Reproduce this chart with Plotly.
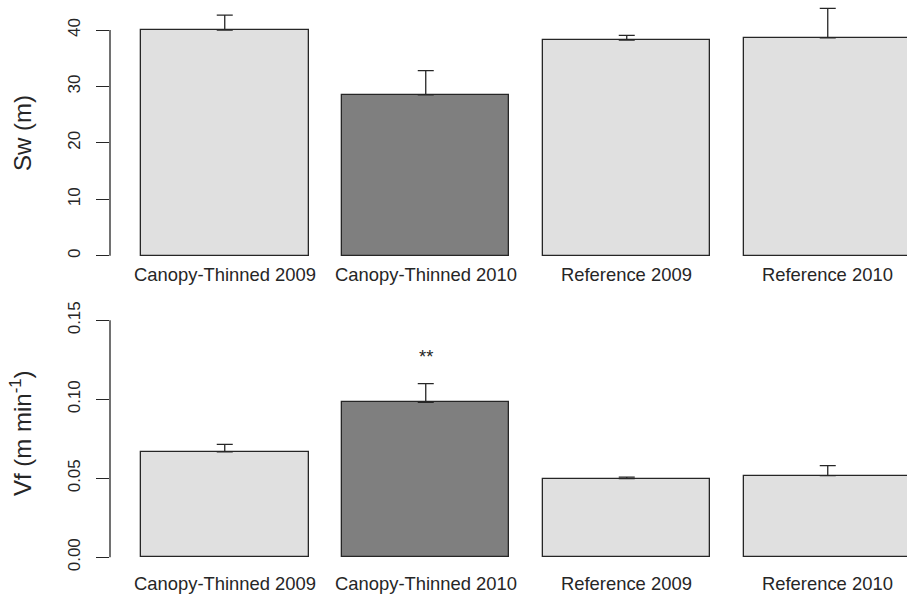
import plotly.graph_objects as go

# Treatment groups
categories = ["Canopy-Thinned 2009", "Canopy-Thinned 2010", "Reference 2009", "Reference 2010"]

# Stream width Sw (m): means and upper standard errors
sw_mean = [40.0, 28.5, 38.25, 38.65]
sw_err = [2.66, 4.3, 0.83, 5.2]

# Flow velocity Vf (m min^-1): means and upper standard errors
vf_mean = [0.0668, 0.0981, 0.0498, 0.0517]
vf_err = [0.0047, 0.0118, 0.0010, 0.0063]

bar_colors = ["#E0E0E0", "#7F7F7F", "#E0E0E0", "#E0E0E0"]
sw_ticks = [0, 10, 20, 30, 40]
vf_ticks = [0.0, 0.05, 0.10, 0.15]
vf_ticktext = ["0.00", "0.05", "0.10", "0.15"]
signif_label = "**"
signif_y = 0.127

INK = "#262626"
FONT = "Liberation Sans, Arial, Helvetica, sans-serif"
W, H = 907, 597

fig = go.Figure()

def add_bars(y, err, xa, ya):
    fig.add_trace(go.Bar(
        x=categories, y=y, width=0.8333,
        marker=dict(color=bar_colors, line=dict(color=INK, width=1.3)),
        error_y=dict(type="data", symmetric=False, array=err,
                     arrayminus=[0] * len(err), color=INK,
                     thickness=1.3, width=8),
        xaxis=xa, yaxis=ya, showlegend=False, hoverinfo="skip",
    ))

add_bars(sw_mean, sw_err, "x", "y")
add_bars(vf_mean, vf_err, "x2", "y2")

xrange = [-0.5709, 3.3943]
hidden_x = dict(type="category", range=xrange, showline=False, showgrid=False,
                zeroline=False, showticklabels=False, ticks="", automargin=False,
                categoryorder="array", categoryarray=categories)

# vertical placement (pixels from top) of each panel's plot area
top_px = (0, 262)
bot_px = (310, 566)
dom = lambda px: [1 - px[1] / H, 1 - px[0] / H]

yaxis_common = dict(showgrid=False, zeroline=False, showline=False, automargin=False,
                    ticks="outside", ticklen=13, tickwidth=1.3, tickcolor=INK,
                    tickangle=-90, tickfont=dict(size=17, color=INK, family=FONT),
                    ticklabelstandoff=9)

fig.update_layout(
    width=W, height=H,
    margin=dict(l=110, r=0, t=0, b=0, pad=0, autoexpand=False),
    paper_bgcolor="white", plot_bgcolor="white",
    font=dict(family=FONT, color=INK),
    bargap=0,
    xaxis=dict(hidden_x, domain=[0, 1], anchor="y"),
    xaxis2=dict(hidden_x, domain=[0, 1], anchor="y2"),
    yaxis=dict(yaxis_common, domain=dom(top_px), anchor="x",
               range=[-1.117, 45.34], tickvals=sw_ticks),
    yaxis2=dict(yaxis_common, domain=dom(bot_px), anchor="x2",
                range=[-0.00551, 0.15652], tickvals=vf_ticks,
                ticktext=vf_ticktext),
)

# axis lines spanning only the tick range
fig.add_shape(type="line", xref="x domain", yref="y", x0=0, x1=0,
              y0=sw_ticks[0], y1=sw_ticks[-1], line=dict(color=INK, width=1.3))
fig.add_shape(type="line", xref="x2 domain", yref="y2", x0=0, x1=0,
              y0=vf_ticks[0], y1=vf_ticks[-1], line=dict(color=INK, width=1.3))

# category names under each panel
for cat in categories:
    fig.add_annotation(x=cat, xref="x", y=1 - 274 / H, yref="paper",
                       text=cat, showarrow=False, yanchor="middle",
                       font=dict(size=18.4, color=INK, family=FONT))
    fig.add_annotation(x=cat, xref="x2", y=1 - 583.3 / H, yref="paper",
                       text=cat, showarrow=False, yanchor="middle",
                       font=dict(size=18.4, color=INK, family=FONT))

# axis titles
fig.add_annotation(x=(22 - 110) / 797, xref="paper", y=1 - 133 / H, yref="paper",
                   text="Sw (m)", textangle=-90, showarrow=False,
                   xanchor="center", yanchor="middle",
                   font=dict(size=24, color=INK, family=FONT))
fig.add_annotation(x=(21 - 110) / 797, xref="paper", y=1 - 433 / H, yref="paper",
                   text="Vf (m min<sup>-1</sup>)", textangle=-90, showarrow=False,
                   xanchor="center", yanchor="middle",
                   font=dict(size=24, color=INK, family=FONT))

# significance marker
fig.add_annotation(x=categories[1], xref="x2", y=signif_y, yref="y2",
                   text=signif_label, showarrow=False, yanchor="middle",
                   font=dict(size=18.4, color=INK, family=FONT))

fig.write_html("out.html")
